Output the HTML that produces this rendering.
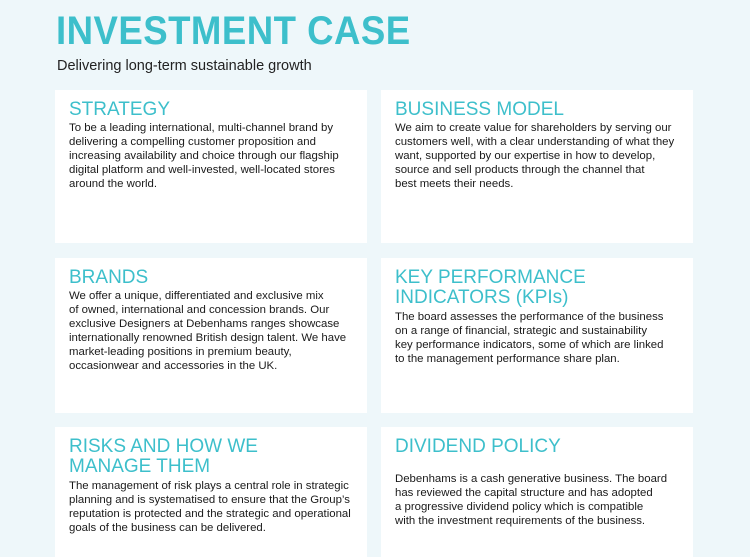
<!DOCTYPE html>
<html><head><style>
*{margin:0;padding:0;box-sizing:border-box}
body{width:750px;height:545px;background:#eef7fa;position:relative;overflow:hidden;font-family:"Liberation Sans",sans-serif;color:#222}
.t{position:absolute;left:56px;top:9px;font-size:40px;font-weight:bold;color:#3dbfcb;letter-spacing:0.5px;white-space:nowrap;transform-origin:left top;transform:scaleX(0.915)}
.s{position:absolute;left:57px;top:58px;font-size:14.5px;color:#222}
.c{position:absolute;background:#fff;width:312px}
.c h2{position:absolute;left:14px;top:10px;font-size:19px;font-weight:normal;color:#3dbfcb;line-height:20px;white-space:nowrap}
.c p{position:absolute;left:14px;font-size:11.4px;line-height:14px;white-space:nowrap;color:#1a1a1a}
</style></head><body>
<div class="t">INVESTMENT CASE</div>
<div class="s">Delivering long-term sustainable growth</div>

<div class="c" style="left:55px;top:90px;height:153px"><h2>STRATEGY</h2><p style="top:31px">To be a leading international, multi-channel brand by<br>delivering a compelling customer proposition and<br>increasing availability and choice through our flagship<br>digital platform and well-invested, well-located stores<br>around the world.</p></div>

<div class="c" style="left:381px;top:90px;height:153px"><h2>BUSINESS MODEL</h2><p style="top:31px">We aim to create value for shareholders by serving our<br>customers well, with a clear understanding of what they<br>want, supported by our expertise in how to develop,<br>source and sell products through the channel that<br>best meets their needs.</p></div>

<div class="c" style="left:55px;top:258px;height:155px"><h2>BRANDS</h2><p style="top:31px">We offer a unique, differentiated and exclusive mix<br>of owned, international and concession brands. Our<br>exclusive Designers at Debenhams ranges showcase<br>internationally renowned British design talent. We have<br>market-leading positions in premium beauty,<br>occasionwear and accessories in the UK.</p></div>

<div class="c" style="left:381px;top:258px;height:155px"><h2>KEY PERFORMANCE<br>INDICATORS (KPIs)</h2><p style="top:52px">The board assesses the performance of the business<br>on a range of financial, strategic and sustainability<br>key performance indicators, some of which are linked<br>to the management performance share plan.</p></div>

<div class="c" style="left:55px;top:427px;height:130px"><h2>RISKS AND HOW WE<br>MANAGE THEM</h2><p style="top:52px">The management of risk plays a central role in strategic<br>planning and is systematised to ensure that the Group’s<br>reputation is protected and the strategic and operational<br>goals of the business can be delivered.</p></div>

<div class="c" style="left:381px;top:427px;height:130px"><h2>DIVIDEND POLICY</h2><p style="top:45px">Debenhams is a cash generative business. The board<br>has reviewed the capital structure and has adopted<br>a progressive dividend policy which is compatible<br>with the investment requirements of the business.</p></div>
</body></html>
